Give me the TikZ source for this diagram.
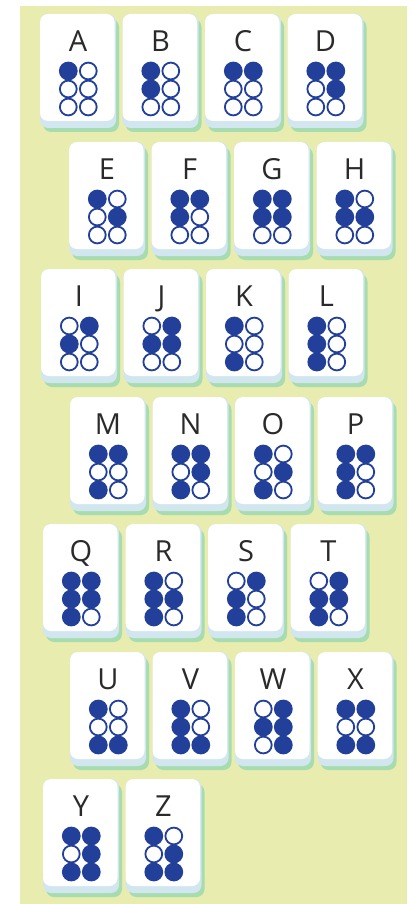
\documentclass[tikz,border=0pt]{standalone}
\usepackage{fontspec}
\setmainfont{Open Sans}
\definecolor{bg}{HTML}{E8ECAE}
\definecolor{shadowgreen}{HTML}{A6DCB0}
\definecolor{tileblue}{HTML}{D2E6EF}
\definecolor{dotblue}{HTML}{22409A}
\definecolor{letterc}{HTML}{2A2A2A}
\tikzset{
  lettersty/.style={inner sep=0pt, anchor=base, text=letterc, font=\fontsize{29}{29}\selectfont},
  filleddot/.style={fill=dotblue},
  opendot/.style={draw=dotblue, line width=1.8pt, fill=white},
}
\newcommand\brtile[4]{% letter, x, y, dots
  \begin{scope}[shift={(#2,#3)}]
    \fill[shadowgreen, rounded corners=8pt] (3,5) rectangle (79,118);
    \fill[tileblue, rounded corners=8pt] (0,0) rectangle (76,114);
    \fill[white, rounded corners=8pt] (0,0) rectangle (74.5,107);
    \node[lettersty] (L-#1) at (38,37.5) {#1};
    \foreach \d [count=\i from 0] in {#4} {
      \pgfmathtruncatemacro\cc{int(\i/3)}
      \pgfmathtruncatemacro\rr{mod(\i,3)}
      \ifnum\d=1
        \fill[filleddot] (28.3+20*\cc, 57+18*\rr) circle (9.4pt);
      \else
        \draw[opendot] (28.3+20*\cc, 57+18*\rr) circle (8.4pt);
      \fi
    }
  \end{scope}
}
\begin{document}
\begin{tikzpicture}[x=1pt,y=-1pt]
\useasboundingbox (0,0) rectangle (412,904);
\fill[white] (0,0) rectangle (412,904);
\fill[bg] (20,6) rectangle (406.5,904);
% row 1
\brtile{A}{40}{14}{1,0,0,0,0,0}
\brtile{B}{122.5}{14}{1,1,0,0,0,0}
\brtile{C}{205}{14}{1,0,0,1,0,0}
\brtile{D}{287.5}{14}{1,0,0,1,1,0}
% row 2
\brtile{E}{69}{142}{1,0,0,0,1,0}
\brtile{F}{151.5}{142}{1,1,0,1,0,0}
\brtile{G}{234}{142}{1,1,0,1,1,0}
\brtile{H}{316.5}{142}{1,1,0,0,1,0}
% row 3
\brtile{I}{41}{269}{0,1,0,1,0,0}
\brtile{J}{123.5}{269}{0,1,0,1,1,0}
\brtile{K}{206}{269}{1,0,1,0,0,0}
\brtile{L}{288.5}{269}{1,1,1,0,0,0}
% row 4
\brtile{M}{70}{397}{1,0,1,1,0,0}
\brtile{N}{152.5}{397}{1,0,1,1,1,0}
\brtile{O}{235}{397}{1,0,1,0,1,0}
\brtile{P}{317.5}{397}{1,1,1,1,0,0}
% row 5
\brtile{Q}{43}{524}{1,1,1,1,1,0}
\brtile{R}{125.5}{524}{1,1,1,0,1,0}
\brtile{S}{208}{524}{0,1,1,1,0,0}
\brtile{T}{290.5}{524}{0,1,1,1,1,0}
% row 6
\brtile{U}{70}{652}{1,0,1,0,0,1}
\brtile{V}{152.5}{652}{1,1,1,0,0,1}
\brtile{W}{235}{652}{0,1,0,1,1,1}
\brtile{X}{317.5}{652}{1,0,1,1,0,1}
% row 7
\brtile{Y}{43}{779}{1,0,1,1,1,1}
\brtile{Z}{125.5}{779}{1,0,1,0,1,1}
\end{tikzpicture}
\end{document}
